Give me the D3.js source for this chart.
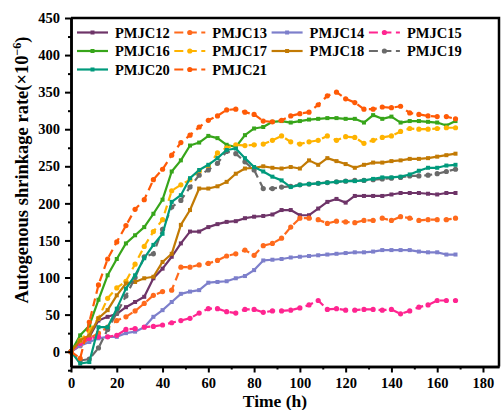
<!DOCTYPE html>
<html lang="en">
<head>
    <meta charset="UTF-8">
    <title>Autogenous shrinkage</title>
    <script src="https://d3js.org/d3.v7.min.js"></script>
    <style>
        body {
            margin: 0;
            padding: 0;
            background-color: #fff;
        }
        svg text {
            font-family: "Liberation Serif", "Times New Roman", serif;
            font-weight: bold;
            fill: #000;
        }
        .axis path, .axis line {
            stroke: #000;
        }
    </style>
</head>
<body>
    <svg id="chart" width="502" height="410"></svg>

    <script>
        // time points (h)
        const times = [0, 4, 8, 12, 16, 20, 24, 28, 32, 36, 40, 44, 48, 52, 56, 60, 64, 68, 72, 76, 80, 84,
            88, 92, 96, 100, 104, 108, 112, 116, 120, 124, 128, 132, 136, 140, 144, 148, 152, 156, 160, 164, 168];

        // autogenous shrinkage (x10^-6)
        const pmjc12 = [0, 10, 20, 42, 47, 51, 60, 67, 74, 99, 112, 128, 146, 162, 162, 168, 172, 175, 176, 180, 182, 183,
            185, 191, 191, 184, 184, 193, 202, 206, 201, 210, 210, 210, 210, 212, 214, 214, 214, 213, 212, 214, 214];
        const pmjc13 = [0, 8, 18, 25, 33, 42, 47, 55, 65, 76, 81, 83, 114, 114, 117, 119, 123, 129, 132, 137, 130, 143,
            146, 153, 168, 180, 180, 178, 173, 176, 175, 174, 177, 177, 180, 177, 182, 180, 177, 178, 178, 178, 180];
        const pmjc14 = [0, 8, 13, 18, 20, 20, 25, 27, 33, 47, 56, 67, 78, 81, 83, 93, 94, 95, 99, 102, 110, 123,
            124, 125, 127, 128, 129, 130, 131, 132, 133, 134, 134, 135, 137, 137, 137, 137, 135, 134, 134, 131, 131];
        const pmjc15 = [0, 11, 18, 20, 20, 22, 30, 31, 33, 34, 36, 39, 42, 45, 52, 58, 58, 54, 52, 57, 57, 53,
            55, 55, 56, 59, 63, 69, 57, 58, 56, 56, 57, 57, 56, 57, 51, 55, 60, 63, 69, 69, 69];
        const pmjc16 = [0, 22, 35, 70, 103, 125, 146, 157, 168, 186, 205, 243, 258, 278, 282, 291, 288, 279, 276, 292, 301, 303,
            310, 311, 309, 311, 313, 314, 315, 315, 314, 314, 309, 319, 314, 317, 309, 311, 311, 310, 309, 305, 311];
        const pmjc17 = [0, 15, 28, 45, 72, 86, 95, 118, 142, 162, 178, 217, 225, 232, 243, 250, 268, 275, 279, 278, 279, 280,
            285, 291, 283, 280, 283, 285, 291, 285, 290, 289, 281, 285, 289, 291, 297, 301, 300, 300, 301, 302, 302];
        const pmjc18 = [0, 15, 22, 45, 56, 76, 92, 94, 99, 101, 121, 132, 171, 191, 220, 220, 223, 229, 240, 247, 248, 250,
            248, 247, 249, 247, 258, 252, 261, 257, 253, 248, 252, 255, 255, 257, 258, 260, 260, 261, 263, 265, 267];
        const pmjc19 = [0, -12, -10, 5, 30, 52, 75, 100, 128, 132, 165, 195, 204, 222, 238, 245, 254, 270, 267, 256, 245, 220,
            220, 222, 223, 225, 226, 227, 228, 229, 230, 231, 231, 232, 233, 234, 235, 237, 237, 238, 240, 243, 246];
        const pmjc20 = [0, -16, -14, 33, 33, 58, 85, 103, 126, 144, 159, 202, 211, 234, 245, 252, 261, 272, 274, 261, 249, 243,
            236, 231, 222, 225, 226, 227, 228, 229, 230, 230, 231, 233, 235, 235, 236, 239, 244, 248, 248, 251, 252];
        const pmjc21 = [0, -9, 40, 90, 125, 148, 170, 192, 205, 232, 246, 265, 282, 292, 303, 312, 318, 326, 327, 323, 320, 311,
            310, 312, 318, 321, 323, 333, 345, 350, 341, 336, 327, 327, 330, 329, 331, 322, 320, 318, 317, 317, 314];

        const seriesNames = ["PMJC12", "PMJC13", "PMJC14", "PMJC15", "PMJC16", "PMJC17", "PMJC18", "PMJC19", "PMJC20", "PMJC21"];
        const seriesValues = [pmjc12, pmjc13, pmjc14, pmjc15, pmjc16, pmjc17, pmjc18, pmjc19, pmjc20, pmjc21];
        const seriesColors = ["#6e3468", "#ff6a1c", "#7d7fcb", "#ff2590", "#37a51a", "#ffb300", "#c27a04", "#6a6a6a", "#009a7c", "#ff5a06"];
        const seriesDashed = [false, true, false, true, false, true, false, true, false, true];

        const xTicks = [0, 20, 40, 60, 80, 100, 120, 140, 160, 180];
        const xMinorTicks = [10, 30, 50, 70, 90, 110, 130, 150, 170];
        const yTicks = [0, 50, 100, 150, 200, 250, 300, 350, 400, 450];
        const yMinorTicks = [-25, 25, 75, 125, 175, 225, 275, 325, 375, 425];

        const margin = { left: 71, right: 3, top: 18, bottom: 43.5 };
        const svg = d3.select("#chart");
        const W = 502, H = 410;

        const x = d3.scaleLinear().domain([0, 187]).range([margin.left, W - margin.right]);
        const y = d3.scaleLinear().domain([-20, 450]).range([H - margin.bottom, margin.top]);

        const series = seriesNames.map((name, i) => ({
            name: name,
            color: seriesColors[i],
            dashed: seriesDashed[i],
            points: times.map((t, j) => ({ t: t, v: seriesValues[i][j] }))
        }));

        // lines
        const line = d3.line().x(d => x(d.t)).y(d => y(d.v));
        const plot = svg.append("g");

        series.forEach(s => {
            plot.append("path")
                .datum(s.points)
                .attr("fill", "none")
                .attr("stroke", s.color)
                .attr("stroke-width", 2.2)
                .attr("stroke-linejoin", "round")
                .attr("stroke-dasharray", s.dashed ? "8,5" : null)
                .attr("d", line);

            if (s.dashed) {
                plot.selectAll(null)
                    .data(s.points)
                    .enter().append("circle")
                    .attr("cx", d => x(d.t))
                    .attr("cy", d => y(d.v))
                    .attr("r", 2.6)
                    .attr("fill", s.color);
            } else {
                plot.selectAll(null)
                    .data(s.points)
                    .enter().append("rect")
                    .attr("x", d => x(d.t) - 2)
                    .attr("y", d => y(d.v) - 2)
                    .attr("width", 4)
                    .attr("height", 4)
                    .attr("fill", s.color);
            }
        });

        // frame (top, right)
        svg.append("path")
            .attr("d", `M${x.range()[0]},${y.range()[1]}H${x.range()[1]}V${y.range()[0]}`)
            .attr("fill", "none")
            .attr("stroke", "#000")
            .attr("stroke-width", 2.5);

        // axes
        svg.append("g")
            .attr("class", "axis")
            .attr("transform", `translate(0,${y.range()[0]})`)
            .call(d3.axisBottom(x).tickValues(xTicks).tickSize(6).tickSizeOuter(0).tickPadding(5));
        svg.append("g")
            .attr("class", "axis")
            .attr("transform", `translate(0,${y.range()[0]})`)
            .call(d3.axisBottom(x).tickValues(xMinorTicks).tickSize(3).tickSizeOuter(0).tickFormat(""));

        svg.append("g")
            .attr("class", "axis")
            .attr("transform", `translate(${x.range()[0]},0)`)
            .call(d3.axisLeft(y).tickValues(yTicks).tickSize(6).tickSizeOuter(0).tickPadding(5));
        svg.append("g")
            .attr("class", "axis")
            .attr("transform", `translate(${x.range()[0]},0)`)
            .call(d3.axisLeft(y).tickValues(yMinorTicks).tickSize(3).tickSizeOuter(0).tickFormat(""));

        svg.selectAll(".axis path.domain").attr("stroke-width", 2.5);
        svg.selectAll(".axis .tick line").attr("stroke-width", 2);
        svg.selectAll(".axis text").style("font-size", "14.5px");

        // axis titles
        svg.append("text")
            .attr("x", 275)
            .attr("y", 407)
            .attr("text-anchor", "middle")
            .style("font-size", "17.5px")
            .text("Time (h)");

        const yTitle = svg.append("text")
            .attr("transform", "translate(28,170) rotate(-90)")
            .attr("text-anchor", "middle")
            .style("font-size", "18.5px");
        yTitle.append("tspan").text("Autogenous shrinkage rate(×10");
        yTitle.append("tspan").attr("dy", -7).style("font-size", "12px").text("−6");
        yTitle.append("tspan").attr("dy", 7).text(")");

        // legend
        const legend = svg.append("g");
        series.forEach((s, i) => {
            const lx = 77 + (i % 4) * 97.3;
            const ly = 32.5 + Math.floor(i / 4) * 18.5;
            const item = legend.append("g").attr("transform", `translate(${lx},${ly})`);
            item.append("line")
                .attr("x1", 0).attr("x2", 31)
                .attr("stroke", s.color)
                .attr("stroke-width", 2.2)
                .attr("stroke-dasharray", s.dashed ? "9,4.5" : null);
            if (s.dashed) {
                item.append("circle").attr("cx", 15.5).attr("r", 2.6).attr("fill", s.color);
            } else {
                item.append("rect").attr("x", 13.5).attr("y", -2).attr("width", 4).attr("height", 4).attr("fill", s.color);
            }
            item.append("text")
                .attr("x", 38)
                .attr("dy", "0.35em")
                .style("font-size", "14.5px")
                .text(s.name);
        });
    </script>
</body>
</html>
